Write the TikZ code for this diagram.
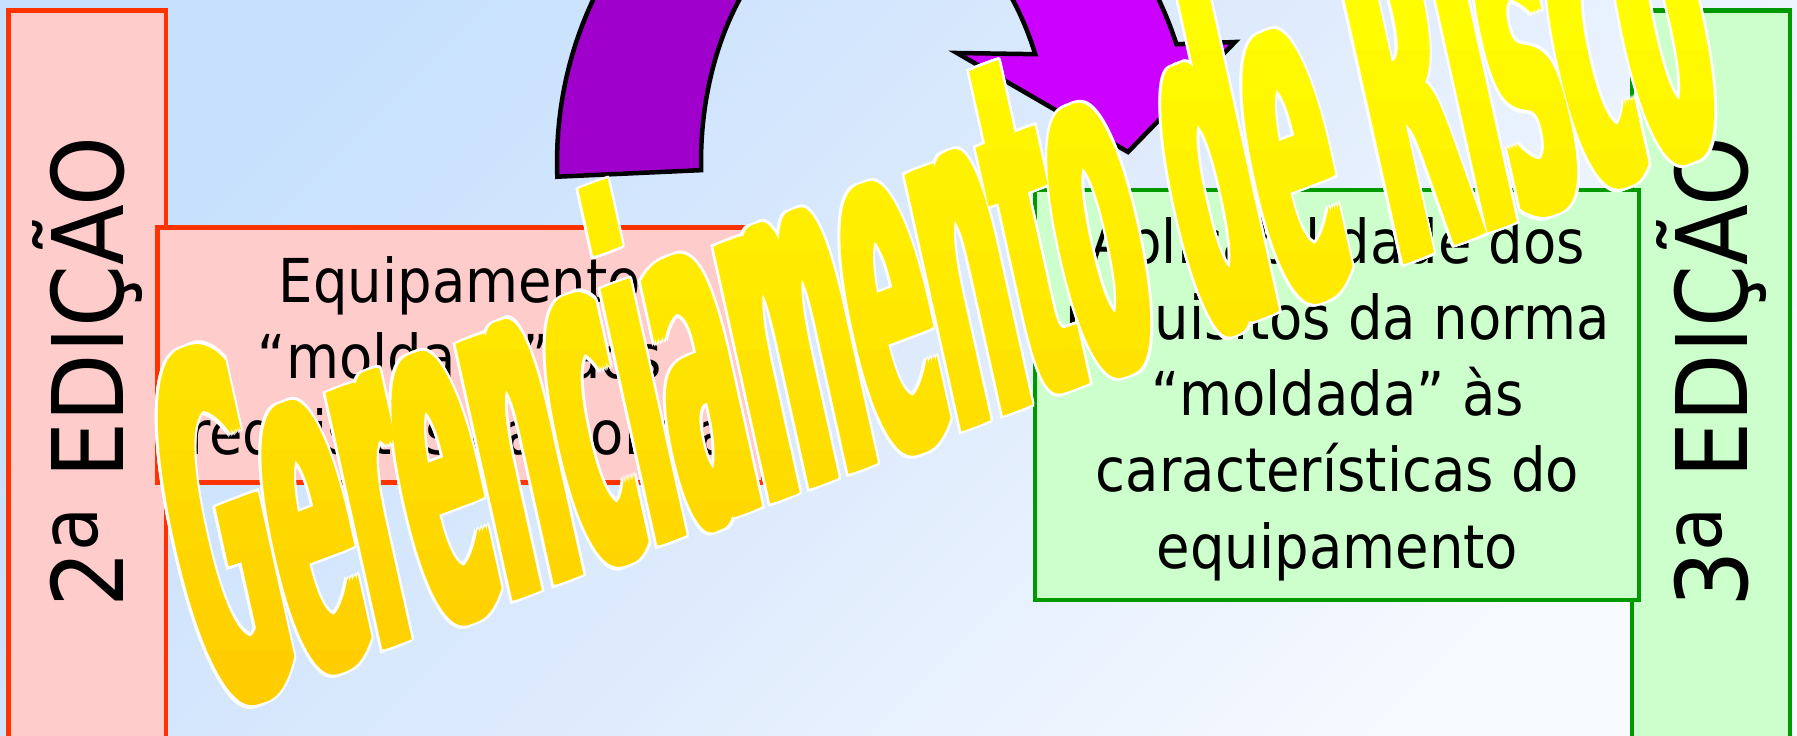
\documentclass[tikz,border=0pt]{standalone}
\usepackage{fontspec}
\usepackage{graphicx}
\newfontfamily\boxfont{DejaVu Sans}[FakeStretch=0.9]
\newfontfamily\wafont{DejaVu Sans}
\definecolor{edred}{HTML}{FF3300}
\definecolor{edredfill}{HTML}{FFCCCC}
\definecolor{edgreen}{HTML}{009900}
\definecolor{edgreenfill}{HTML}{CCFFCC}
\definecolor{bgA}{RGB}{198,224,253}
\definecolor{bgB}{RGB}{222,235,253}
\definecolor{bgC}{RGB}{247,250,255}
\definecolor{arrowL}{HTML}{A000CC}
\definecolor{arrowR}{HTML}{CC00FF}
\newbox\waBox
\newcommand\waLayer[2]{%
  \foreach \dx in {#1}{\foreach \dy in {#2}{\rlap{\kern\dx pt\raisebox{\dy pt}{\copy\waBox}}}}%
  \hbox to \wd\waBox{\vrule width 0pt height \ht\waBox\hfil}}
\newcommand\arrowpath{plot[domain=182.4:19.6,samples=90,variable=\t] ({876+319*cos(\t)},{162-351*sin(\t)}) -- (1235,42) -- (1128,152) -- (957,53) -- plot[domain=24.5:181.8,samples=90,variable=\t] ({876+175*cos(\t)},{162-260*sin(\t)}) -- cycle}
\begin{document}
\setbox\waBox\hbox{\resizebox{1622pt}{365pt}{\wafont\bfseries Gerenciamento de Risco}}
\begin{tikzpicture}[x=1pt,y=-1pt,
  edbox/.style={outer sep=0pt, inner sep=0pt, line width=4.5pt, anchor=north west},
  redbox/.style={edbox, draw=edred, fill=edredfill},
  greenbox/.style={edbox, draw=edgreen, fill=edgreenfill},
  boxtext/.style={inner sep=0pt, anchor=base, font=\boxfont\fontsize{60.5}{76.3}\selectfont},
  edtext/.style={inner sep=0pt, anchor=base, rotate=90, font=\boxfont\fontsize{98.8}{110}\selectfont},
  arrowline/.style={draw=black, line width=4.5pt, line join=miter},
  wascope/.style={shift={(wa)}, cm={0.9354,0.3535,-0.2164,0.9763,(0,0)}},
  wanode/.style={inner sep=0pt, anchor=base west, transform shape}]
\path[use as bounding box] (0,0) rectangle (1797,736);
\clip (0,0) rectangle (1797,736);
\shade[top color=bgA, bottom color=bgC, middle color=bgB, shading angle=45] (0,0) rectangle (1797,736);
% side boxes
\node[redbox, minimum width=157.5pt, minimum height=740pt] (ed2box) at (8.5,10.5) {};
\node[greenbox, minimum width=158pt, minimum height=740pt] (ed3box) at (1632,10.5) {};
% middle boxes
\node[redbox, minimum width=605.5pt, minimum height=255pt] (lbox) at (157.5,227.5) {};
\node[greenbox, minimum width=604pt, minimum height=410pt] (rbox) at (1035,190) {};
% texts
\node[edtext] (ed2) at (123,372) {2\raisebox{26pt}{\fontsize{80}{80}\selectfont a} EDIÇÃO};
\node[edtext] (ed3) at (1747,372) {3\raisebox{26pt}{\fontsize{80}{80}\selectfont a} EDIÇÃO};
\node[boxtext] (ltext) at (460,302) {\begin{tabular}[t]{@{}c@{}}Equipamento\\“moldado” aos\\requisitos da norma\end{tabular}};
\node[boxtext] (rtext) at (1337.5,263) {\begin{tabular}[t]{@{}c@{}}Aplicabilidade dos\\requisitos da norma\\“moldada” às\\características do\\equipamento\end{tabular}};
% purple circular arrow
\begin{scope}
  \fill[arrowR] \arrowpath;
  \clip (0,-500) rectangle (876,400);
  \fill[arrowL] \arrowpath;
\end{scope}
\draw[arrowline] \arrowpath;
% WordArt
\coordinate (wa) at (212,715);
\begin{scope}[wascope]
  \node[wanode] (waw) at (0,0) {\color{white}\waLayer{-7.75,-6.25,...,7.75}{-2.5,-1.25,0,1.25,2.5}};
\end{scope}
\foreach \i in {0,...,14}{
  \pgfmathsetmacro\ya{50*\i}
  \pgfmathsetmacro\yb{50*\i+51}
  \pgfmathtruncatemacro\gg{255-0.073*(\ya+25)}
  \definecolor{bandc}{RGB}{255,\gg,0}
  \begin{scope}
    \clip (-10,\ya) rectangle (1810,\yb);
    \begin{scope}[wascope]
      \node[wanode] (wa\i) at (0,0) {\color{bandc}\waLayer{-5.25,-3.75,...,5.25}{0}};
    \end{scope}
  \end{scope}
}
\end{tikzpicture}
\end{document}
